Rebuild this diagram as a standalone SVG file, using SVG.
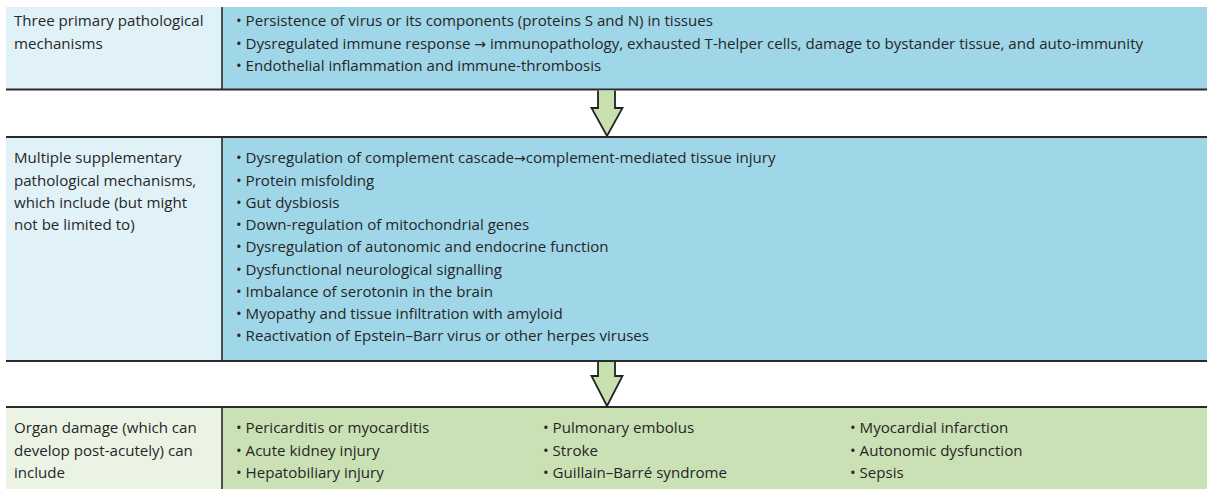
<svg xmlns="http://www.w3.org/2000/svg" width="1207" height="489" viewBox="0 0 1207 489">
<style>
text{font-family:"Open Sans","Noto Sans","Liberation Sans",sans-serif;font-size:15.1px;fill:#262626}
.arw{font-family:"DejaVu Sans",sans-serif;font-size:14px}
.lb{fill:#e1f1f8}.rb{fill:#9fd6e8}.lg{fill:#ebf4e4}.rg{fill:#c9e1b4}
.ln{stroke:#2a2a2a;stroke-width:2;fill:none}
.dv{stroke:#2a2a2a;stroke-width:1.6}
.ar{fill:#c8dfae;stroke:#222;stroke-width:1.8;stroke-linejoin:miter}
</style>
<rect width="1207" height="489" fill="#fff"/>
<g id="panel1">
<rect class="lb" x="6" y="7" width="216" height="82"/>
<rect class="rb" x="222" y="7" width="985" height="82"/>
<line class="dv" x1="222" y1="7" x2="222" y2="89"/>
<line class="ln" x1="6" y1="89.5" x2="1207" y2="89.5"/>
<text x="14" y="26">Three primary pathological</text>
<text x="14" y="49">mechanisms</text>
<text x="236" y="26">• Persistence of virus or its components (proteins S and N) in tissues</text>
<text x="236" y="49">• Dysregulated immune response <tspan class="arw">→</tspan> immunopathology, exhausted T-helper cells, damage to bystander tissue, and auto-immunity</text>
<text x="236" y="71">• Endothelial inflammation and immune-thrombosis</text>
</g>
<g id="panel2">
<rect class="lb" x="6" y="137" width="216" height="224"/>
<rect class="rb" x="222" y="137" width="985" height="224"/>
<line class="dv" x1="222" y1="137" x2="222" y2="361"/>
<line class="ln" x1="6" y1="137" x2="1207" y2="137"/>
<line class="ln" x1="6" y1="361" x2="1207" y2="361"/>
<text x="14" y="163">Multiple supplementary</text>
<text x="14" y="186">pathological mechanisms,</text>
<text x="14" y="208">which include (but might</text>
<text x="14" y="230">not be limited to)</text>
<text x="236" y="163">• Dysregulation of complement cascade<tspan class="arw">→</tspan>complement-mediated tissue injury</text>
<text x="236" y="186">• Protein misfolding</text>
<text x="236" y="208">• Gut dysbiosis</text>
<text x="236" y="230">• Down-regulation of mitochondrial genes</text>
<text x="236" y="252">• Dysregulation of autonomic and endocrine function</text>
<text x="236" y="275">• Dysfunctional neurological signalling</text>
<text x="236" y="297">• Imbalance of serotonin in the brain</text>
<text x="236" y="319">• Myopathy and tissue infiltration with amyloid</text>
<text x="236" y="341">• Reactivation of Epstein–Barr virus or other herpes viruses</text>
</g>
<g id="panel3">
<rect class="lg" x="6" y="407" width="216" height="82"/>
<rect class="rg" x="222" y="407" width="985" height="82"/>
<line class="dv" x1="222" y1="407" x2="222" y2="489"/>
<line class="ln" x1="6" y1="407" x2="1207" y2="407"/>
<text x="14" y="433">Organ damage (which can</text>
<text x="14" y="456">develop post-acutely) can</text>
<text x="14" y="478">include</text>
<text x="236" y="433">• Pericarditis or myocarditis</text>
<text x="236" y="456">• Acute kidney injury</text>
<text x="236" y="478">• Hepatobiliary injury</text>
<text x="543" y="433">• Pulmonary embolus</text>
<text x="543" y="456">• Stroke</text>
<text x="543" y="478">• Guillain–Barré syndrome</text>
<text x="850" y="433">• Myocardial infarction</text>
<text x="850" y="456">• Autonomic dysfunction</text>
<text x="850" y="478">• Sepsis</text>
</g>
<g id="connectors">
<path class="ar" d="M598,90.5 V108 H591.5 L607,136 L622.5,108 H615 V90.5"/>
<path class="ar" d="M598,362 V376 H591.5 L607,406 L622.5,376 H615 V362"/>
</g>
</svg>
